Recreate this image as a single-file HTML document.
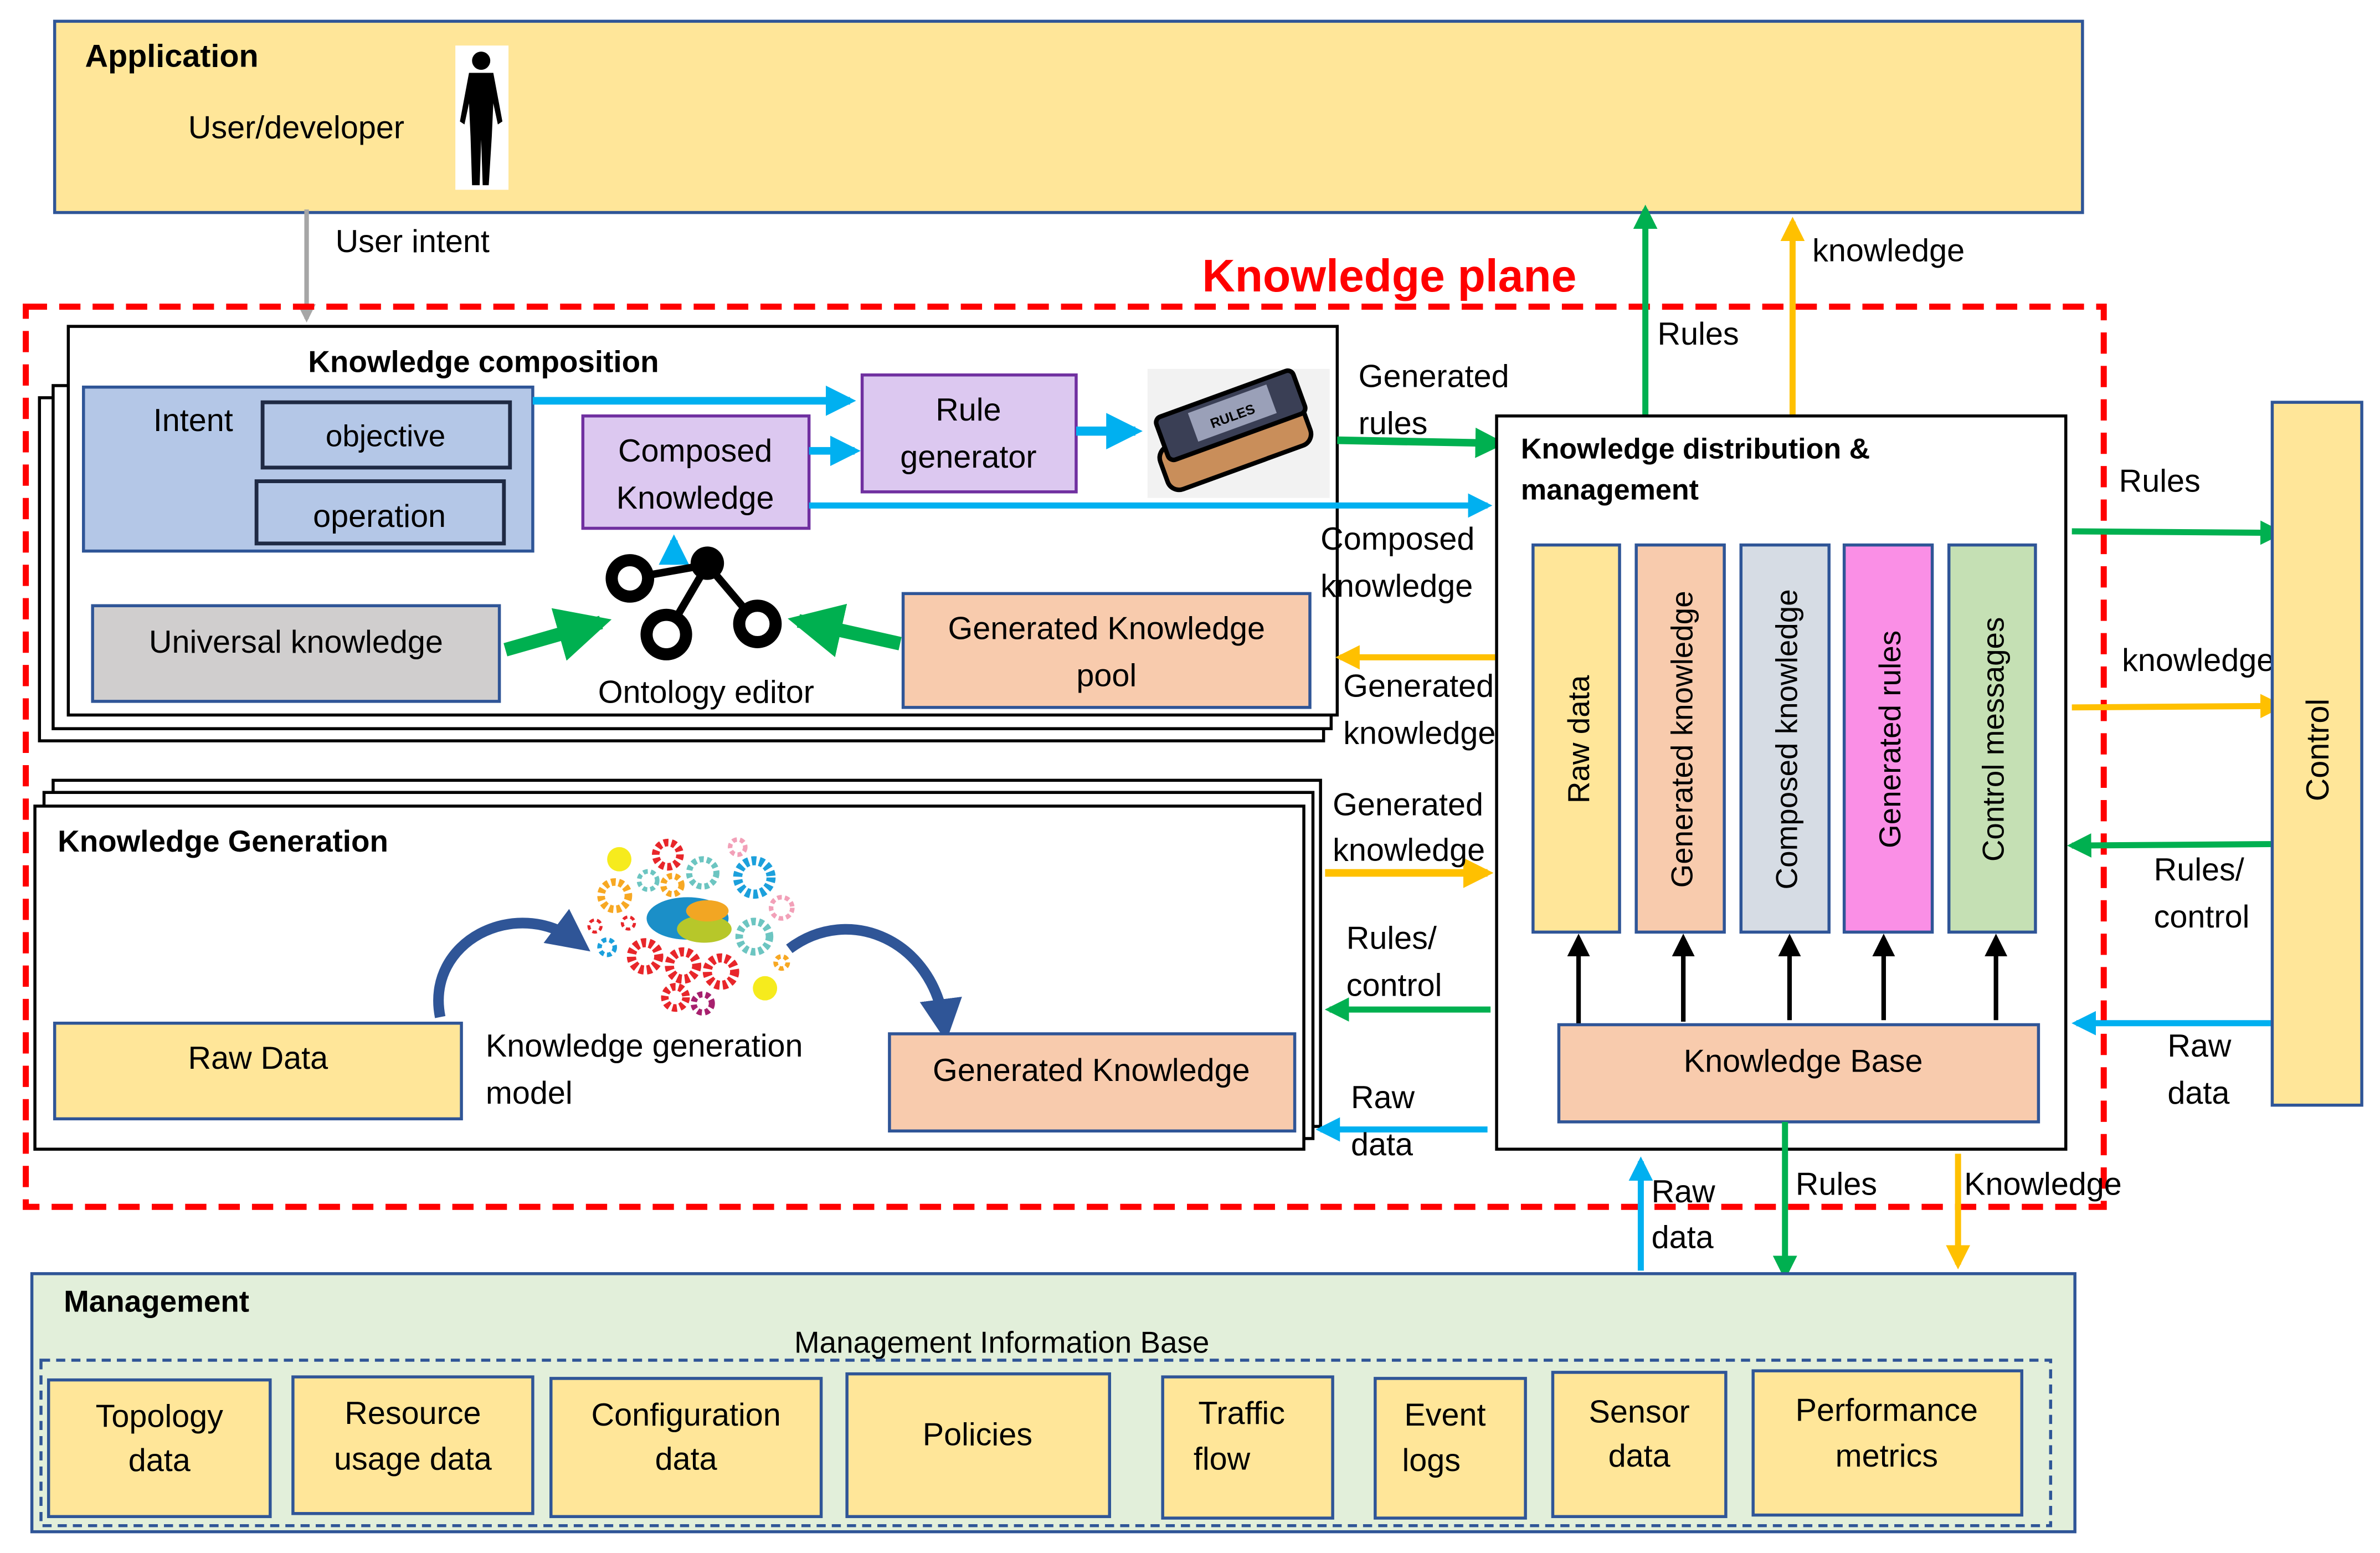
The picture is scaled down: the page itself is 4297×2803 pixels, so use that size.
<!DOCTYPE html>
<html><head><meta charset="utf-8"><style>
html,body{margin:0;padding:0;background:#fff;}
svg{display:block;}
text{font-family:"Liberation Sans",sans-serif;fill:#000;}
</style></head><body>
<svg width="4297" height="2803" viewBox="0 0 1568 1023" preserveAspectRatio="none" xmlns="http://www.w3.org/2000/svg">
<defs>
<marker id="mg" viewBox="0 0 10 10" refX="8" refY="5" markerWidth="4" markerHeight="4" orient="auto"><path d="M0,0L10,5L0,10z" fill="#00B050"/></marker>
<marker id="mo" viewBox="0 0 10 10" refX="8" refY="5" markerWidth="4" markerHeight="4" orient="auto"><path d="M0,0L10,5L0,10z" fill="#FFC000"/></marker>
<marker id="mb" viewBox="0 0 10 10" refX="8" refY="5" markerWidth="4" markerHeight="4" orient="auto"><path d="M0,0L10,5L0,10z" fill="#00B0F0"/></marker>
<marker id="mk" viewBox="0 0 10 10" refX="8" refY="5" markerWidth="5" markerHeight="5" orient="auto"><path d="M0,0L10,5L0,10z" fill="#000"/></marker>
<marker id="ms" viewBox="0 0 10 10" refX="8" refY="5" markerWidth="4" markerHeight="4" orient="auto"><path d="M0,0L10,5L0,10z" fill="#A6A6A6"/></marker>
<marker id="md" viewBox="0 0 10 10" refX="6" refY="5" markerWidth="4" markerHeight="4" orient="auto"><path d="M0,0L10,5L0,10z" fill="#2F5597"/></marker>
</defs>

<!-- Application -->
<rect x="36" y="14" width="1336" height="126" fill="#FFE699" stroke="#2F5597" stroke-width="2"/>
<text x="56" y="44" font-size="21" font-weight="bold">Application</text>
<text x="124" y="91" font-size="21">User/developer</text>
<rect x="300" y="30" width="35" height="95" fill="#fff"/>
<g fill="#000">
<circle cx="317" cy="40" r="6"/>
<path d="M309,48 L325,48 L331,80 L328,82 L325,68 L324,90 L322,122 L318,122 L317,92 L316,122 L311,122 L310,90 L309,68 L306,82 L303,80z"/>
</g>
<line x1="202" y1="138" x2="202" y2="210" stroke="#A6A6A6" stroke-width="3" marker-end="url(#ms)"/>
<text x="221" y="166" font-size="21">User intent</text>

<!-- Knowledge plane -->
<text x="792" y="192" font-size="30" font-weight="bold" fill="#FF0000" style="fill:#FF0000">Knowledge plane</text>
<rect x="17" y="202" width="1369" height="593" fill="none" stroke="#FF0000" stroke-width="4" stroke-dasharray="14,8"/>

<!-- Knowledge composition -->
<rect x="26" y="262" width="846" height="226" fill="#fff" stroke="#000" stroke-width="2"/>
<rect x="35" y="254" width="842" height="226" fill="#fff" stroke="#000" stroke-width="2"/>
<rect x="45" y="215" width="836" height="256" fill="#fff" stroke="#000" stroke-width="2"/>
<text x="203" y="245" font-size="20" font-weight="bold">Knowledge composition</text>
<rect x="55" y="255" width="296" height="108" fill="#B4C7E7" stroke="#2F5597" stroke-width="2"/>
<text x="101" y="284" font-size="21">Intent</text>
<rect x="173" y="265" width="163" height="43" fill="#B4C7E7" stroke="#1F2A44" stroke-width="2.5"/>
<text x="254" y="294" font-size="20" text-anchor="middle">objective</text>
<rect x="169" y="317" width="163" height="41" fill="#B4C7E7" stroke="#1F2A44" stroke-width="2.5"/>
<text x="250" y="347" font-size="21" text-anchor="middle">operation</text>
<line x1="351" y1="264" x2="560" y2="264" stroke="#00B0F0" stroke-width="5" marker-end="url(#mb)"/>
<rect x="384" y="274" width="149" height="74" fill="#DCC8F0" stroke="#7030A0" stroke-width="2"/>
<text x="458" y="304" font-size="21" text-anchor="middle">Composed</text>
<text x="458" y="335" font-size="21" text-anchor="middle">Knowledge</text>
<line x1="533" y1="297" x2="563" y2="297" stroke="#00B0F0" stroke-width="5" marker-end="url(#mb)"/>
<rect x="568" y="247" width="141" height="77" fill="#DCC8F0" stroke="#7030A0" stroke-width="2"/>
<text x="638" y="277" font-size="21" text-anchor="middle">Rule</text>
<text x="638" y="308" font-size="21" text-anchor="middle">generator</text>
<line x1="709" y1="284" x2="748" y2="284" stroke="#00B0F0" stroke-width="6" marker-end="url(#mb)"/>
<!-- book -->
<rect x="756" y="243" width="120" height="85" fill="#F2F2F2"/>
<g transform="rotate(-20 815 288)">
<rect x="762" y="278" width="100" height="30" rx="8" fill="#C98E5A" stroke="#000" stroke-width="3"/>
<rect x="768" y="258" width="96" height="30" rx="4" fill="#3A3F55" stroke="#000" stroke-width="3"/>
<rect x="790" y="262" width="55" height="20" fill="#9AA0B8"/>
<text x="817" y="277" font-size="9" text-anchor="middle" font-weight="bold">RULES</text>
</g>
<line x1="533" y1="333" x2="980" y2="333" stroke="#00B0F0" stroke-width="4" marker-end="url(#mb)"/>
<line x1="881" y1="290" x2="988" y2="292" stroke="#00B050" stroke-width="5" marker-end="url(#mg)"/>
<text x="895" y="255" font-size="21">Generated</text>
<text x="895" y="286" font-size="21">rules</text>
<text x="870" y="362" font-size="21">Composed</text>
<text x="870" y="393" font-size="21">knowledge</text>
<!-- ontology -->
<line x1="444" y1="372" x2="444" y2="356" stroke="#00B0F0" stroke-width="5" marker-end="url(#mb)"/>
<g stroke="#000" stroke-width="5" fill="none">
<line x1="415" y1="381" x2="466" y2="372"/>
<line x1="466" y1="372" x2="439" y2="418"/>
<line x1="466" y1="372" x2="499" y2="411"/>
</g>
<circle cx="415" cy="381" r="12" fill="#fff" stroke="#000" stroke-width="8"/>
<circle cx="466" cy="371" r="11" fill="#000"/>
<circle cx="439" cy="418" r="13" fill="#fff" stroke="#000" stroke-width="8"/>
<circle cx="499" cy="411" r="12" fill="#fff" stroke="#000" stroke-width="8"/>
<text x="394" y="463" font-size="21">Ontology editor</text>
<rect x="61" y="399" width="268" height="63" fill="#D0CECE" stroke="#2F5597" stroke-width="2"/>
<text x="195" y="430" font-size="21" text-anchor="middle">Universal knowledge</text>
<line x1="333" y1="428" x2="396" y2="410" stroke="#00B050" stroke-width="9" marker-end="url(#mg)"/>
<rect x="595" y="391" width="268" height="75" fill="#F8CBAD" stroke="#2F5597" stroke-width="2"/>
<text x="729" y="421" font-size="21" text-anchor="middle">Generated Knowledge</text>
<text x="729" y="452" font-size="21" text-anchor="middle">pool</text>
<line x1="593" y1="424" x2="526" y2="409" stroke="#00B050" stroke-width="9" marker-end="url(#mg)"/>
<line x1="985" y1="433" x2="883" y2="433" stroke="#FFC000" stroke-width="4" marker-end="url(#mo)"/>
<text x="885" y="459" font-size="21">Generated</text>
<text x="885" y="490" font-size="21">knowledge</text>

<!-- Knowledge generation -->
<rect x="35" y="514" width="835" height="228" fill="#fff" stroke="#000" stroke-width="2"/>
<rect x="29" y="522" width="836" height="228" fill="#fff" stroke="#000" stroke-width="2"/>
<rect x="23" y="531" width="836" height="226" fill="#fff" stroke="#000" stroke-width="2"/>
<text x="38" y="561" font-size="20" font-weight="bold">Knowledge Generation</text>
<g fill="none" stroke-dasharray="3,2">
<circle cx="440" cy="563" r="8" stroke="#E8262A" stroke-width="5"/>
<circle cx="463" cy="575" r="9" stroke="#6CC5C1" stroke-width="4"/>
<circle cx="497" cy="578" r="11" stroke="#1BA0DC" stroke-width="6"/>
<circle cx="486" cy="558" r="5" stroke="#F2A0B8" stroke-width="3"/>
<circle cx="405" cy="590" r="9" stroke="#F7A823" stroke-width="5"/>
<circle cx="427" cy="580" r="6" stroke="#6CC5C1" stroke-width="3"/>
<circle cx="443" cy="583" r="6" stroke="#F7A823" stroke-width="4"/>
<circle cx="515" cy="598" r="7" stroke="#F2A0B8" stroke-width="3"/>
<circle cx="497" cy="617" r="10" stroke="#6CC5C1" stroke-width="5"/>
<circle cx="425" cy="630" r="9" stroke="#E8262A" stroke-width="6"/>
<circle cx="450" cy="636" r="9" stroke="#E8262A" stroke-width="6"/>
<circle cx="475" cy="640" r="9" stroke="#E8262A" stroke-width="6"/>
<circle cx="445" cy="657" r="7" stroke="#E8262A" stroke-width="5"/>
<circle cx="463" cy="661" r="6" stroke="#A7206E" stroke-width="4"/>
<circle cx="400" cy="624" r="5" stroke="#1BA0DC" stroke-width="3"/>
<circle cx="392" cy="610" r="4" stroke="#E8262A" stroke-width="2"/>
<circle cx="414" cy="608" r="4" stroke="#E8262A" stroke-width="2"/>
<circle cx="515" cy="634" r="4" stroke="#F7A823" stroke-width="3"/>
</g>
<circle cx="408" cy="566" r="8" fill="#F6EB1D"/>
<circle cx="504" cy="651" r="8" fill="#F6EB1D"/>
<ellipse cx="453" cy="605" rx="27" ry="14" fill="#1B8FC8"/>
<ellipse cx="464" cy="612" rx="18" ry="9" fill="#B7C72A"/>
<ellipse cx="466" cy="600" rx="14" ry="7" fill="#F2A623"/>
<path d="M290,670 C280,620 340,590 380,620" fill="none" stroke="#2F5597" stroke-width="7" marker-end="url(#md)"/>
<path d="M520,625 C560,595 615,620 622,675" fill="none" stroke="#2F5597" stroke-width="7" marker-end="url(#md)"/>
<rect x="36" y="674" width="268" height="63" fill="#FFE699" stroke="#2F5597" stroke-width="2"/>
<text x="170" y="704" font-size="21" text-anchor="middle">Raw Data</text>
<text x="320" y="696" font-size="21">Knowledge generation</text>
<text x="320" y="727" font-size="21">model</text>
<rect x="586" y="681" width="267" height="64" fill="#F8CBAD" stroke="#2F5597" stroke-width="2"/>
<text x="719" y="712" font-size="21" text-anchor="middle">Generated Knowledge</text>
<line x1="873" y1="575" x2="980" y2="575" stroke="#FFC000" stroke-width="5" marker-end="url(#mo)"/>
<text x="878" y="537" font-size="21">Generated</text>
<text x="878" y="567" font-size="21">knowledge</text>
<line x1="982" y1="665" x2="876" y2="665" stroke="#00B050" stroke-width="4" marker-end="url(#mg)"/>
<text x="887" y="625" font-size="21">Rules/</text>
<text x="887" y="656" font-size="21">control</text>
<line x1="980" y1="744" x2="870" y2="744" stroke="#00B0F0" stroke-width="4" marker-end="url(#mb)"/>
<text x="890" y="730" font-size="21">Raw</text>
<text x="890" y="761" font-size="21">data</text>

<!-- KDM -->
<rect x="986" y="274" width="375" height="483" fill="#fff" stroke="#000" stroke-width="2"/>
<text x="1002" y="302" font-size="19" font-weight="bold">Knowledge distribution &amp;</text>
<text x="1002" y="329" font-size="19" font-weight="bold">management</text>
<rect x="1010" y="359" width="57" height="255" fill="#FFE699" stroke="#2F5597" stroke-width="2"/>
<rect x="1078" y="359" width="58" height="255" fill="#F8CBAD" stroke="#2F5597" stroke-width="2"/>
<rect x="1147" y="359" width="58" height="255" fill="#D6DCE4" stroke="#2F5597" stroke-width="2"/>
<rect x="1215" y="359" width="58" height="255" fill="#FA8FE6" stroke="#2F5597" stroke-width="2"/>
<rect x="1284" y="359" width="57" height="255" fill="#C5E0B4" stroke="#2F5597" stroke-width="2"/>
<g font-size="20">
<text transform="translate(1047,487) rotate(-90)" text-anchor="middle">Raw data</text>
<text transform="translate(1115,487) rotate(-90)" text-anchor="middle">Generated knowledge</text>
<text transform="translate(1184,487) rotate(-90)" text-anchor="middle">Composed knowledge</text>
<text transform="translate(1252,487) rotate(-90)" text-anchor="middle">Generated rules</text>
<text transform="translate(1320,487) rotate(-90)" text-anchor="middle">Control messages</text>
</g>
<g stroke="#000" stroke-width="3">
<line x1="1040" y1="675" x2="1040" y2="618" marker-end="url(#mk)"/>
<line x1="1109" y1="673" x2="1109" y2="618" marker-end="url(#mk)"/>
<line x1="1179" y1="672" x2="1179" y2="618" marker-end="url(#mk)"/>
<line x1="1241" y1="672" x2="1241" y2="618" marker-end="url(#mk)"/>
<line x1="1315" y1="672" x2="1315" y2="618" marker-end="url(#mk)"/>
</g>
<rect x="1027" y="675" width="316" height="64" fill="#F8CBAD" stroke="#2F5597" stroke-width="2"/>
<text x="1188" y="706" font-size="21" text-anchor="middle">Knowledge Base</text>

<line x1="1084" y1="273" x2="1084" y2="138" stroke="#00B050" stroke-width="4" marker-end="url(#mg)"/>
<text x="1092" y="227" font-size="21">Rules</text>
<line x1="1181" y1="273" x2="1181" y2="146" stroke="#FFC000" stroke-width="4" marker-end="url(#mo)"/>
<text x="1194" y="172" font-size="21">knowledge</text>

<line x1="1365" y1="350" x2="1502" y2="351" stroke="#00B050" stroke-width="4" marker-end="url(#mg)"/>
<text x="1396" y="324" font-size="21">Rules</text>
<line x1="1365" y1="466" x2="1502" y2="465" stroke="#FFC000" stroke-width="4" marker-end="url(#mo)"/>
<text x="1398" y="442" font-size="21">knowledge</text>
<line x1="1500" y1="556" x2="1365" y2="557" stroke="#00B050" stroke-width="4" marker-end="url(#mg)"/>
<text x="1419" y="580" font-size="21">Rules/</text>
<text x="1419" y="611" font-size="21">control</text>
<line x1="1504" y1="674" x2="1368" y2="674" stroke="#00B0F0" stroke-width="4" marker-end="url(#mb)"/>
<text x="1428" y="696" font-size="21">Raw</text>
<text x="1428" y="727" font-size="21">data</text>

<rect x="1497" y="265" width="59" height="463" fill="#FFE699" stroke="#2F5597" stroke-width="2"/>
<text transform="translate(1534,494) rotate(-90)" font-size="21" text-anchor="middle">Control</text>

<line x1="1081" y1="837" x2="1081" y2="765" stroke="#00B0F0" stroke-width="4" marker-end="url(#mb)"/>
<text x="1088" y="792" font-size="21">Raw</text>
<text x="1088" y="822" font-size="21">data</text>
<line x1="1176" y1="739" x2="1176" y2="840" stroke="#00B050" stroke-width="4" marker-end="url(#mg)"/>
<text x="1183" y="787" font-size="21">Rules</text>
<line x1="1290" y1="760" x2="1290" y2="833" stroke="#FFC000" stroke-width="4" marker-end="url(#mo)"/>
<text x="1294" y="787" font-size="21">Knowledge</text>

<!-- Management -->
<rect x="21" y="839" width="1346" height="170" fill="#E2EFDA" stroke="#2F5597" stroke-width="2"/>
<text x="42" y="864" font-size="20" font-weight="bold">Management</text>
<text x="660" y="891" font-size="20" text-anchor="middle">Management Information Base</text>
<rect x="27" y="896" width="1324" height="109" fill="none" stroke="#2F5597" stroke-width="2" stroke-dasharray="6,4"/>
<g fill="#FFE699" stroke="#2F5597" stroke-width="2">
<rect x="32" y="909" width="146" height="90"/>
<rect x="193" y="907" width="158" height="90"/>
<rect x="363" y="908" width="178" height="91"/>
<rect x="558" y="905" width="173" height="94"/>
<rect x="766" y="907" width="112" height="93"/>
<rect x="906" y="908" width="99" height="92"/>
<rect x="1023" y="904" width="114" height="95"/>
<rect x="1155" y="903" width="177" height="95"/>
</g>
<g font-size="21" text-anchor="middle">
<text x="105" y="940">Topology</text><text x="105" y="969">data</text>
<text x="272" y="938">Resource</text><text x="272" y="968">usage data</text>
<text x="452" y="939">Configuration</text><text x="452" y="968">data</text>
<text x="644" y="952">Policies</text>
<text x="818" y="938">Traffic</text><text x="805" y="968">flow</text>
<text x="952" y="939">Event</text><text x="943" y="969">logs</text>
<text x="1080" y="937">Sensor</text><text x="1080" y="966">data</text>
<text x="1243" y="936">Performance</text><text x="1243" y="966">metrics</text>
</g>
</svg>
</body></html>
